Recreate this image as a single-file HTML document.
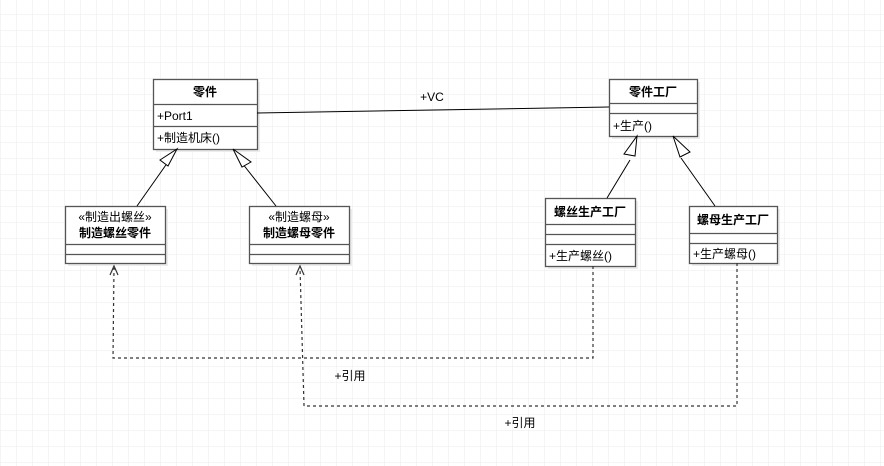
<!DOCTYPE html>
<html><head><meta charset="utf-8"><style>
html,body{margin:0;padding:0;background:#fff}
svg{display:block}
text{font-family:"Liberation Sans","Noto Sans CJK SC",sans-serif;font-size:12px;fill:#000}
.b{font-weight:bold}
</style></head><body>
<svg width="884" height="466" viewBox="0 0 884 466" xmlns="http://www.w3.org/2000/svg">
<defs>
<pattern id="g" x="1" y="-1" width="16" height="16" patternUnits="userSpaceOnUse">
<path d="M16 0V16M0 16H16" stroke="#ebebeb" stroke-width="1" fill="none"/>
</pattern>
</defs>
<rect width="884" height="466" fill="url(#g)"/>
<g fill="#ececec">
<rect x="156" y="82" width="104" height="70"/>
<rect x="612" y="82" width="88" height="57"/>
<rect x="548" y="201" width="90" height="68"/>
<rect x="692" y="209" width="88" height="57"/>
<rect x="68" y="209" width="100" height="57"/>
<rect x="252" y="209" width="100" height="57"/>
</g>
<g fill="#fff" stroke="#555" stroke-width="1.3">
<rect x="153.5" y="79.5" width="104" height="70"/>
<path d="M153.5 104.5H257.5M153.5 126.5H257.5"/>
<rect x="609.5" y="79.5" width="88" height="57"/>
<path d="M609.5 103.5H697.5M609.5 113.5H697.5"/>
<rect x="545.5" y="198.5" width="90" height="68"/>
<path d="M545.5 224.5H635.5M545.5 234.5H635.5M545.5 244.5H635.5"/>
<rect x="689.5" y="206.5" width="88" height="57"/>
<path d="M689.5 233.5H777.5M689.5 243.5H777.5"/>
<rect x="65.5" y="206.5" width="100" height="57"/>
<path d="M65.5 244.5H165.5M65.5 254.5H165.5"/>
<rect x="249.5" y="206.5" width="100" height="57"/>
<path d="M249.5 244.5H349.5M249.5 254.5H349.5"/>
</g>
<text x="205" y="96" text-anchor="middle" class="b">零件</text>
<text x="157" y="120">+Port1</text>
<text x="157" y="142">+制造机床()</text>
<text x="653" y="96" text-anchor="middle" class="b">零件工厂</text>
<text x="613" y="130">+生产()</text>
<text x="590" y="216" text-anchor="middle" class="b">螺丝生产工厂</text>
<text x="549" y="260">+生产螺丝()</text>
<text x="733" y="224" text-anchor="middle" class="b">螺母生产工厂</text>
<text x="693" y="258">+生产螺母()</text>
<text x="115" y="221" text-anchor="middle">«制造出螺丝»</text>
<text x="115" y="237" text-anchor="middle" class="b">制造螺丝零件</text>
<text x="299" y="221" text-anchor="middle">«制造螺母»</text>
<text x="299" y="237" text-anchor="middle" class="b">制造螺母零件</text>
<g stroke="#000" stroke-width="1" fill="none">
<path d="M257 113L609 107"/>
<path d="M137 206L168 162M276 206L242 163M607 198L630 160M715 206L681 158"/>
</g>
<g stroke="#000" fill="#fff" stroke-width="1">
<path d="M177 149L168 166L160 160Z"/>
<path d="M233 149L251 162L242 167Z"/>
<path d="M637 136L635 156L624 154Z"/>
<path d="M673 136L690 152L680 157Z"/>
</g>
<g stroke="#333" stroke-width="1.2" fill="none" stroke-dasharray="3,3">
<path d="M593 266V358H113L114 268"/>
<path d="M737 263V406H304L300 268"/>
</g>
<g stroke="#333" stroke-width="1.2" fill="none">
<path d="M110 275L114 266L118 275"/>
<path d="M296 275L300 266L304 275"/>
</g>
<text x="432" y="101" text-anchor="middle">+VC</text>
<text x="350" y="380" text-anchor="middle">+引用</text>
<text x="520" y="427" text-anchor="middle">+引用</text>
</svg>
</body></html>
